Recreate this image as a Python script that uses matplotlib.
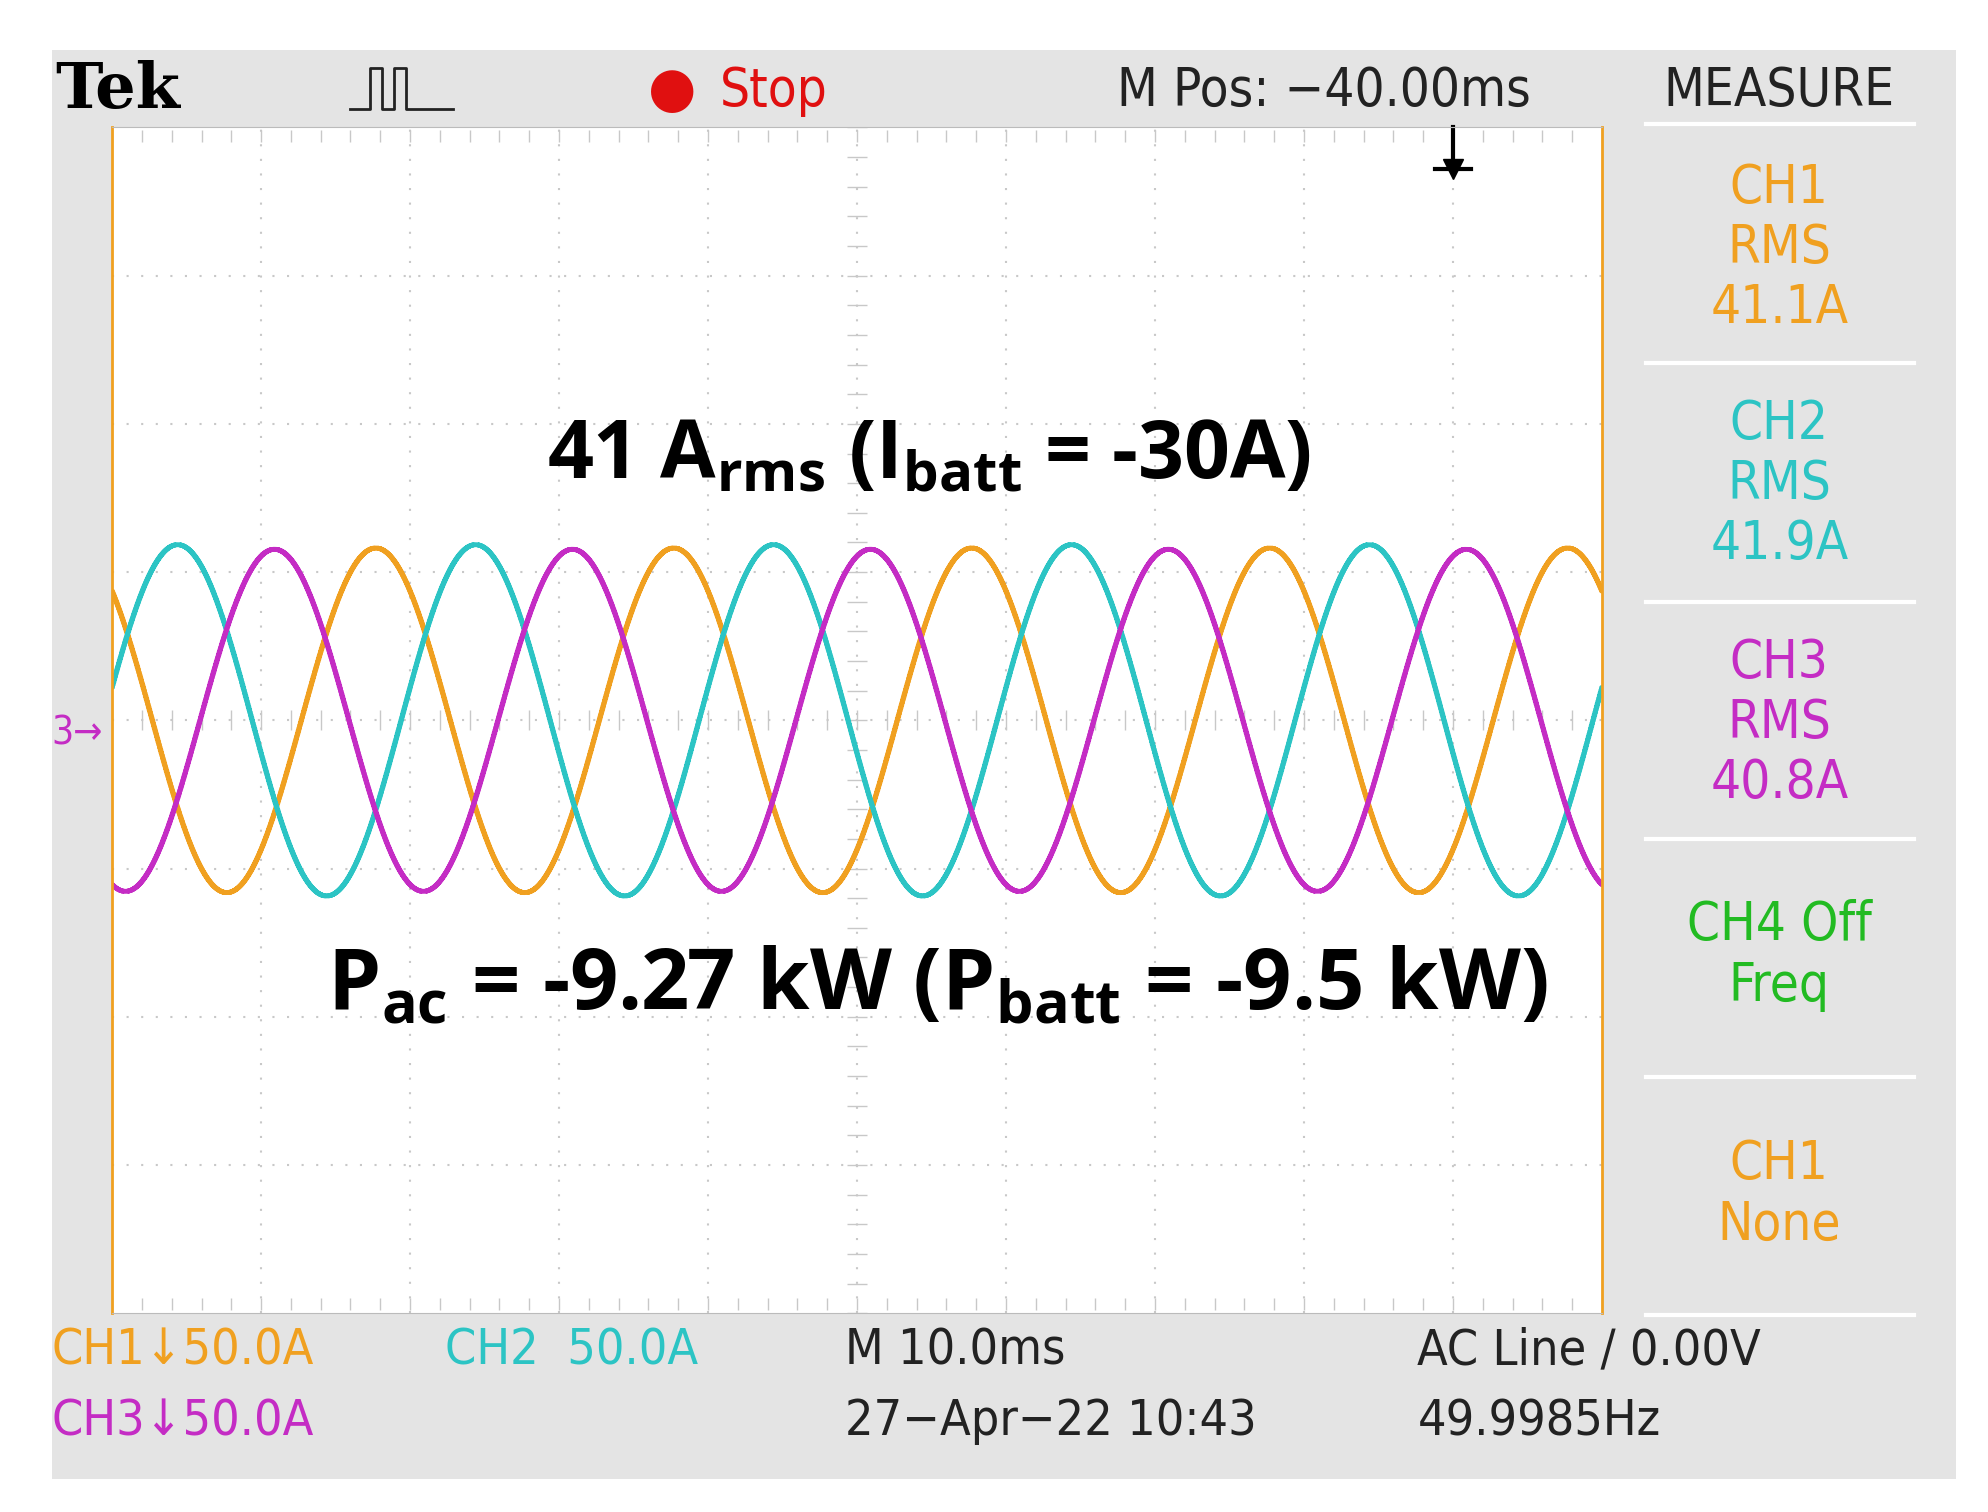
import numpy as np
import matplotlib.pyplot as plt

channels = ["CH1", "CH2", "CH3"]
rms_amps = [41.1, 41.9, 40.8]
peak_time_ms = [17.7, 4.4, 10.9]
freq_hz = 49.9985
colors = ["#f0a020", "#2cc4c4", "#c42cc4"]
volts_per_div = 50.0
time_per_div = 10.0

fig = plt.figure(figsize=(19.88, 15.12), dpi=100)
fig.patch.set_facecolor("white")
bg = fig.add_axes([0.026, 0.022, 0.958, 0.945])
bg.set_facecolor("#e4e4e4")
bg.set_xticks([]); bg.set_yticks([])
for s in bg.spines.values():
    s.set_visible(False)

ax = fig.add_axes([0.0564, 0.1315, 0.7494, 0.7842])
ax.set_facecolor("white")
ax.set_xlim(0, 10 * time_per_div)
ax.set_ylim(-4 * volts_per_div, 4 * volts_per_div)
ax.set_xticks([]); ax.set_yticks([])
for s in ax.spines.values():
    s.set_color("#bbbbbb")
ax.spines["left"].set_color("#f0a020")
ax.spines["right"].set_color("#f0a020")
ax.spines["left"].set_linewidth(2)
ax.spines["right"].set_linewidth(2)

for i in range(1, 10):
    ax.axvline(i * time_per_div, color="#c8c8c8", ls=(0, (1, 6)), lw=1.5)
for j in range(-3, 4):
    ax.axhline(j * volts_per_div, color="#c8c8c8", ls=(0, (1, 6)), lw=1.5)
# center cross minor ticks
mt = np.arange(0, 100.1, 2)
ax.plot(mt, np.zeros_like(mt), "|", color="#c8c8c8", ms=14)
my = np.arange(-200, 200.1, 10)
ax.plot(np.full_like(my, 50.0), my, "_", color="#c8c8c8", ms=14)
ax.plot(mt, np.full_like(mt, 197.0), "|", color="#c8c8c8", ms=8)
ax.plot(mt, np.full_like(mt, -197.0), "|", color="#c8c8c8", ms=8)

t = np.linspace(0, 100, 2000)
for rms, tp, c in zip(rms_amps, peak_time_ms, colors):
    y = rms * np.sqrt(2) * np.cos(2 * np.pi * freq_hz * (t - tp) / 1000.0)
    ax.plot(t, y, color=c, lw=3.5, drawstyle="steps-mid")

# trigger position marker
ax.plot([90, 90], [200, 186], color="black", lw=3, clip_on=False)
ax.plot(90, 186, marker="v", color="black", ms=14, clip_on=False)
ax.plot([88.8, 91.2], [186, 186], color="black", lw=3, clip_on=False)

bold = dict(family="Open Sans", weight="bold", color="black")
ax.text(54.8, 89, r"41 A$_\mathregular{rms}$ (I$_\mathregular{batt}$ = -30A)", fontsize=58, ha="center", va="center", **bold)
ax.text(55.4, -90, r"P$_\mathregular{ac}$ = -9.27 kW (P$_\mathregular{batt}$ = -9.5 kW)", fontsize=61, ha="center", va="center", **bold)

nf = dict(family="DejaVu Sans", stretch="condensed")
fig.text(0.028, 0.94, "Tek", family="DejaVu Serif", weight="bold", fontsize=46, va="center")
# acquisition icon drawn as a small pulse trace
fig.add_artist(plt.Line2D([0.176, 0.186, 0.186, 0.192, 0.192, 0.198, 0.198, 0.204, 0.204, 0.228],
                          [0.928, 0.928, 0.955, 0.955, 0.928, 0.928, 0.955, 0.955, 0.928, 0.928],
                          color="#222222", lw=2))
fig.text(0.338, 0.94, "●", color="#e01010", fontsize=40, va="center", ha="center")
fig.text(0.362, 0.94, "Stop", color="#e01010", fontsize=38, va="center", **nf)
fig.text(0.562, 0.94, "M Pos: \u221240.00ms", color="#222222", fontsize=38, va="center", **nf)
fig.text(0.895, 0.94, "MEASURE", color="#222222", fontsize=38, va="center", ha="center", **nf)
fig.text(0.026, 0.515, "3\u2192", color="#c42cc4", fontsize=28, va="center", **nf)

panels = [("CH1\nRMS\n41.1A", colors[0]), ("CH2\nRMS\n41.9A", colors[1]),
          ("CH3\nRMS\n40.8A", colors[2]), ("CH4 Off\nFreq", "#22bb22"),
          ("CH1\nNone", colors[0])]
ys = [0.836, 0.68, 0.522, 0.368, 0.21]
for (txt, c), y in zip(panels, ys):
    fig.text(0.895, y, txt, color=c, fontsize=38, ha="center", va="center", linespacing=1.2, **nf)
for y in [0.918, 0.76, 0.602, 0.445, 0.288, 0.13]:
    fig.add_artist(plt.Line2D([0.828, 0.963], [y, y], color="white", lw=3))

fig.text(0.026, 0.107, "CH1\u219350.0A", color=colors[0], fontsize=36, va="center", **nf)
fig.text(0.026, 0.06, "CH3\u219350.0A", color=colors[2], fontsize=36, va="center", **nf)
fig.text(0.224, 0.107, "CH2  50.0A", color=colors[1], fontsize=36, va="center", **nf)
fig.text(0.425, 0.107, "M 10.0ms", color="#222222", fontsize=36, va="center", **nf)
fig.text(0.425, 0.06, "27\u2212Apr\u221222 10:43", color="#222222", fontsize=36, va="center", **nf)
fig.text(0.713, 0.107, "AC Line \u2215 0.00V", color="#222222", fontsize=36, va="center", **nf)
fig.text(0.713, 0.06, "49.9985Hz", color="#222222", fontsize=36, va="center", **nf)

fig.savefig("out.png", dpi=100)
